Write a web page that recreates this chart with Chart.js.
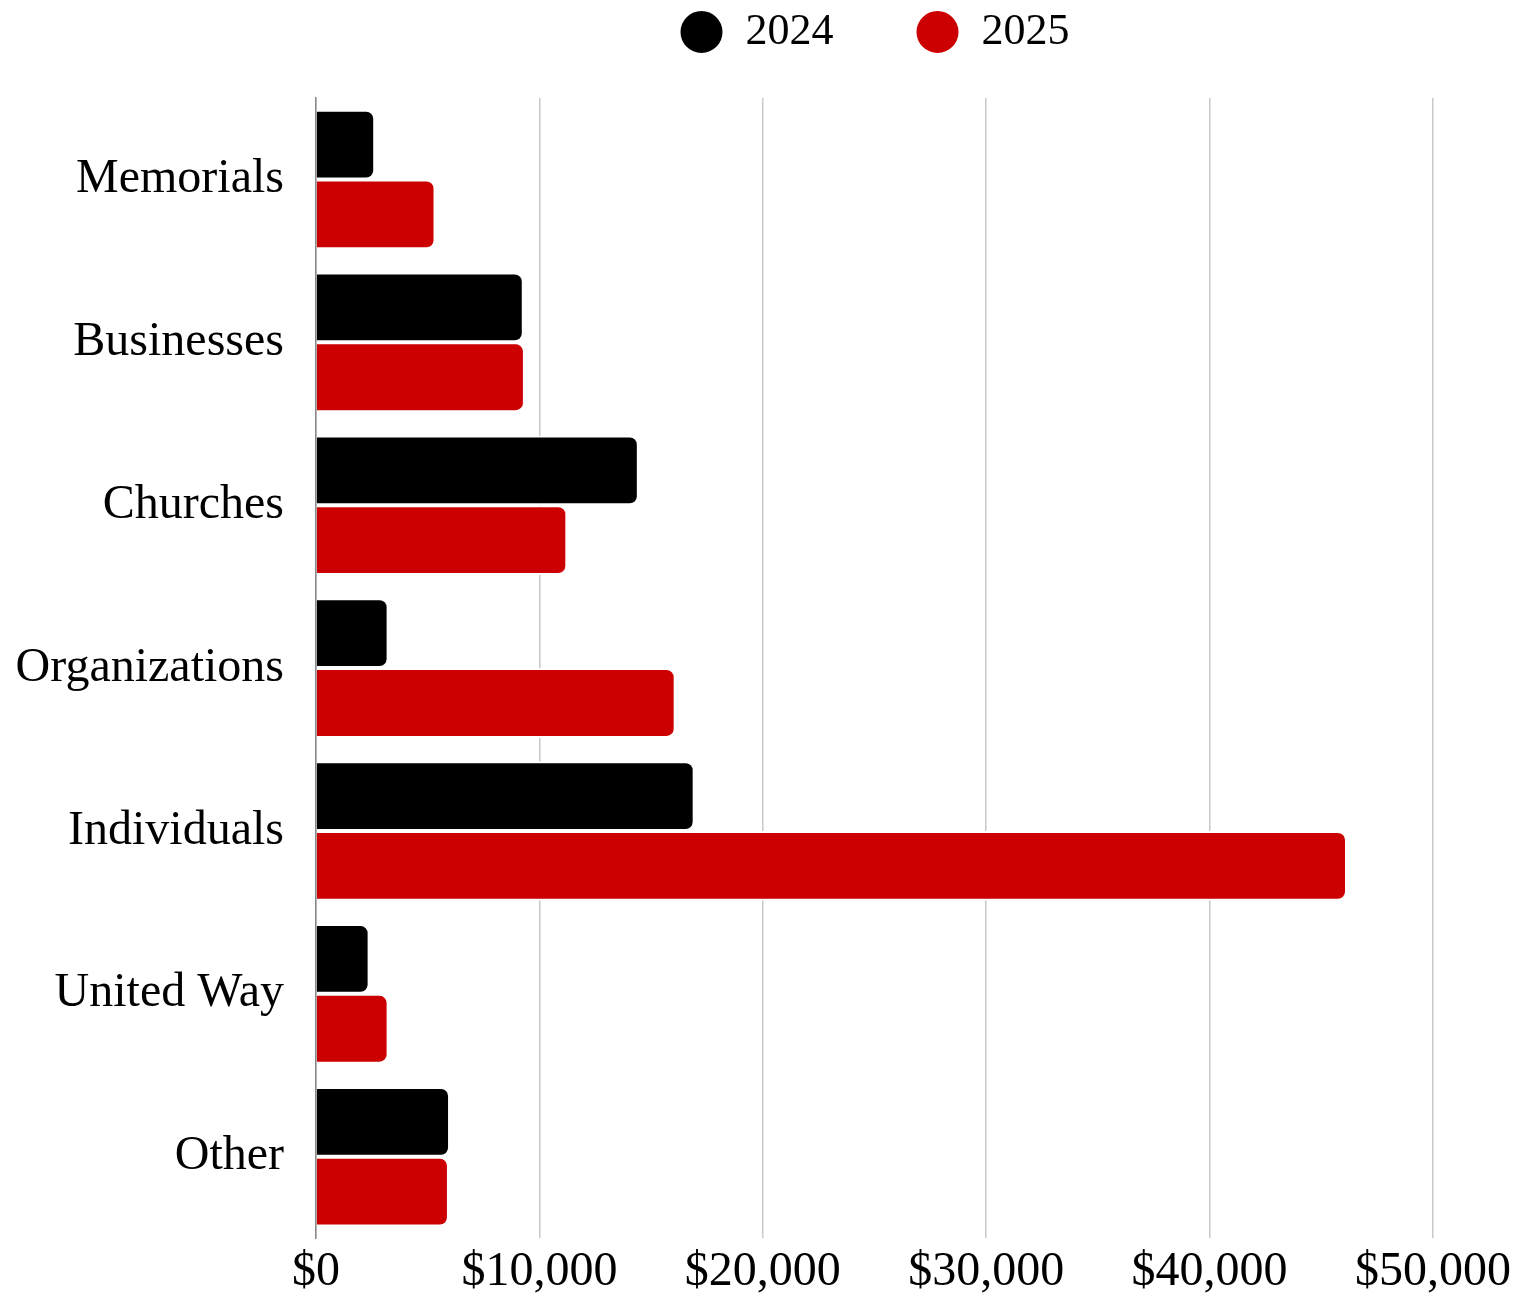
<!DOCTYPE html>
<html>
<head>
<meta charset="utf-8">
<script src="https://cdn.jsdelivr.net/npm/chart.js@4.4.1/dist/chart.umd.min.js"></script>
<style>
  html, body { margin: 0; padding: 0; background: #fff; }
  #wrap { width: 1528px; height: 1299px; }
</style>
</head>
<body>
<div id="wrap"><canvas id="donationsChart"></canvas></div>
<script>
// Donation totals by source
var categories = ["Memorials", "Businesses", "Churches", "Organizations", "Individuals", "United Way", "Other"];
var values2024 = [2650, 9300, 14450, 3250, 16950, 2400, 6000];
var values2025 = [5350, 9350, 11250, 16100, 46150, 3250, 5950];
var seriesNames = ["2024", "2025"];
var xTickStep = 10000;
var xMax = 50000;

var serif = "'Liberation Serif', 'DejaVu Serif', serif";

// push the chart area down under the legend
var legendSpacer = {
  id: "legendSpacer",
  beforeInit: function (chart) {
    var fit = chart.legend.fit;
    chart.legend.fit = function () {
      fit.bind(chart.legend)();
      this.height = 170;
    };
  }
};

var ctx = document.getElementById("donationsChart").getContext("2d");
var myChart = new Chart(ctx, {
  type: "bar",
  data: {
    labels: categories,
    datasets: [{
      label: seriesNames[0],
      data: values2024,
      backgroundColor: "#000000",
      borderColor: "#ffffff",
      borderWidth: 2,
      borderRadius: 9,
      categoryPercentage: 0.857,
      barPercentage: 1.0
    }, {
      label: seriesNames[1],
      data: values2025,
      backgroundColor: "#cc0000",
      borderColor: "#ffffff",
      borderWidth: 2,
      borderRadius: 9,
      categoryPercentage: 0.857,
      barPercentage: 1.0
    }]
  },
  options: {
    indexAxis: "y",
    responsive: true,
    maintainAspectRatio: false,
    animation: false,
    layout: {
      padding: { top: -72, right: 95, left: 0, bottom: -14 }
    },
    plugins: {
      legend: {
        position: "top",
        fullSize: false,
        labels: {
          usePointStyle: true,
          pointStyle: "circle",
          pointStyleWidth: 44,
          boxHeight: 31.1,
          padding: 82,
          color: "#000",
          font: { family: serif, size: 44 }
        }
      },
      tooltip: { enabled: false }
    },
    scales: {
      x: {
        min: 0,
        max: xMax,
        ticks: {
          stepSize: xTickStep,
          padding: 10,
          color: "#000",
          font: { family: serif, size: 48, lineHeight: 1.0 },
          callback: function (v) { return "$" + v.toLocaleString("en-US"); }
        },
        grid: { color: "#c8c8c8", lineWidth: 1.5, drawTicks: false },
        border: { display: false }
      },
      y: {
        ticks: {
          padding: 32,
          color: "#000",
          font: { family: serif, size: 48 }
        },
        grid: { display: false, drawTicks: false },
        border: { display: true, color: "#888", width: 1.5 },
        afterFit: function (scale) { scale.width = 316; }
      }
    }
  },
  plugins: [legendSpacer]
});
</script>
</body>
</html>
